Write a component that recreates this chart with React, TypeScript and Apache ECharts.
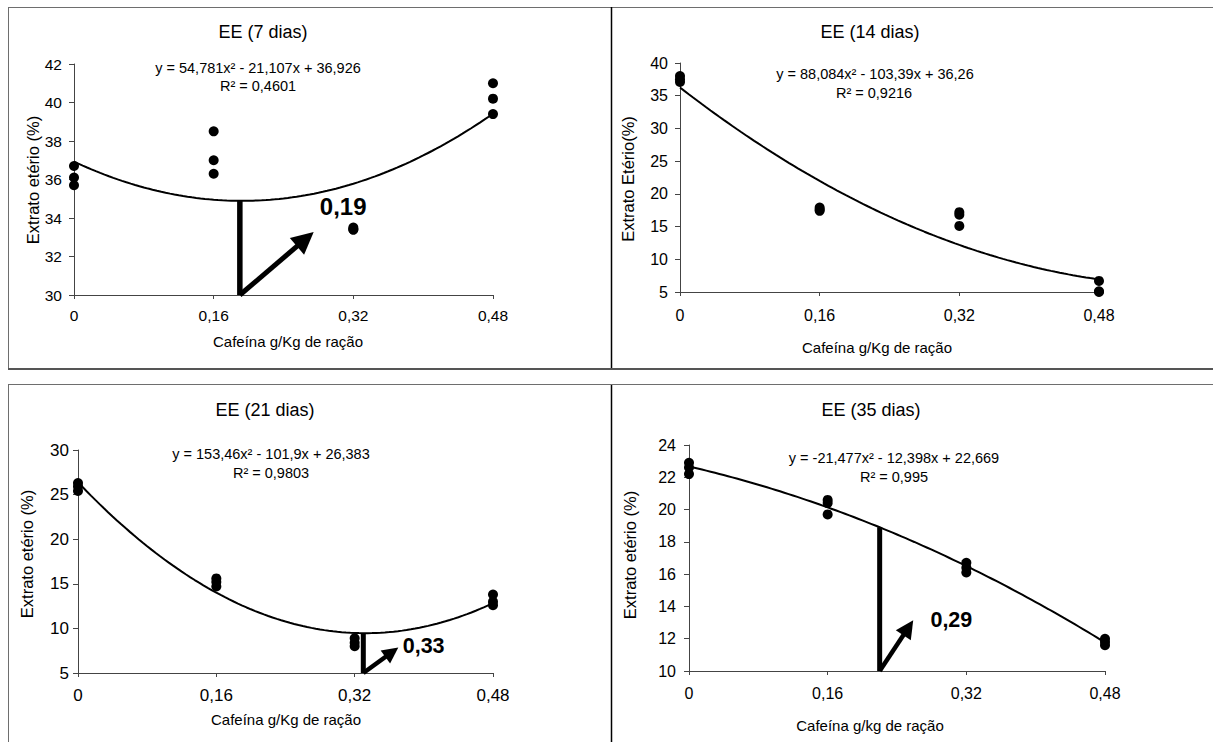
import React, { useEffect, useRef } from "react";
import * as echarts from "echarts";

// Caffeine doses (g/kg of feed) on the x axis
const doses = [0, 0.16, 0.32, 0.48];

// Ether extract (%) replicates for each dose, one list per sampling day
const ee7 = [[36.7, 36.1, 35.7], [38.5, 37.0, 36.3], [33.5, 33.4, 33.4], [41.0, 40.2, 39.4]];
const ee14 = [[38.0, 37.5, 37.1], [17.9, 17.6, 17.4], [17.2, 16.8, 15.1], [6.7, 5.1, 5.0]];
const ee21 = [[26.3, 25.9, 25.4], [15.6, 15.2, 14.7], [8.9, 8.4, 8.0], [13.8, 13.0, 12.6]];
const ee35 = [[22.9, 22.6, 22.2], [20.6, 20.4, 19.7], [16.7, 16.4, 16.1], [12.0, 11.8, 11.6]];

// Quadratic fits: a·x² + b·x + c
const coef7 = [54.781, -21.107, 36.926];
const coef14 = [88.084, -103.39, 36.26];
const coef21 = [153.46, -101.9, 26.383];
const coef35 = [-21.477, -12.398, 22.669];

const titles = ["EE (7 dias)", "EE (14 dias)", "EE (21 dias)", "EE (35 dias)"];
const equations = [
  "y = 54,781x² - 21,107x + 36,926",
  "y = 88,084x² - 103,39x + 36,26",
  "y = 153,46x² - 101,9x + 26,383",
  "y = -21,477x² - 12,398x + 22,669",
];
const r2Texts = ["R² = 0,4601", "R² = 0,9216", "R² = 0,9803", "R² = 0,995"];
const xNames = [
  "Cafeína g/Kg de ração",
  "Cafeína g/Kg de ração",
  "Cafeína g/Kg de ração",
  "Cafeína g/kg de ração",
];
const yNames = ["Extrato etério (%)", "Extrato Etério(%)", "Extrato etério (%)", "Extrato etério (%)"];

// Y scale of each panel
const yMin = [30, 5, 5, 10];
const yMax = [42, 40, 30, 24];
const yStep = [2, 5, 5, 2];

// Optimum dose annotations (drop line, arrow and bold label)
const optLabels = ["0,19", null, "0,33", "0,29"];
const optX = [0.19, null, 0.33, 0.22];
const arrowEnd = [[0.265, 32.9], null, [0.363, 7.33], [0.253, 12.68]];
const labelAt = [[0.281, 34.59], null, [0.375, 7.98], [0.278, 13.14]];

const panelData = [ee7, ee14, ee21, ee35];
const panelCoef = [coef7, coef14, coef21, coef35];

// Layout in page pixels
const grids = [
  { left: 74, top: 64, width: 419, height: 231 },
  { left: 680, top: 63, width: 419, height: 229 },
  { left: 78, top: 450, width: 415, height: 223 },
  { left: 689, top: 445, width: 416, height: 226 },
];
const titlePos = [[263, 32], [870, 32], [265, 410], [871, 410]];
const eqPos = [[258, 68], [875, 74], [271, 454], [894, 458]];
const r2Pos = [[258, 86], [874, 93], [271, 473], [894, 477]];
const xNamePos = [[288, 341], [877, 347], [286, 719], [870, 725]];
const yNamePos = [[33, 180], [628, 179], [27, 554], [630, 555]];
const tickFont = [15.5, 16, 17, 16];
const xLabelMargin = [12, 15, 14, 14];
const yLabelMargin = [12, 12, 9, 13];
const optFont = [24, 0, 21.5, 21.5];
const arrowHead = [22, 0, 16, 18];
const arrowWidth = [5, 0, 4.5, 4.5];

const FONT = "'Liberation Sans', Arial, Helvetica, sans-serif";

const quad = (c: number[], x: number) => c[0] * x * x + c[1] * x + c[2];

function curvePoints(c: number[]) {
  const pts: number[][] = [];
  for (let i = 0; i <= 96; i++) {
    const x = (0.48 * i) / 96;
    pts.push([x, quad(c, x)]);
  }
  return pts;
}

function text(x: number, y: number, str: string, size: number, extra: any = {}) {
  return {
    type: "text",
    x,
    y,
    silent: true,
    ...extra,
    style: {
      text: str,
      fill: "#000",
      fontSize: size,
      fontFamily: FONT,
      fontWeight: "normal",
      align: "center",
      verticalAlign: "middle",
      textAlign: "center",
      textVerticalAlign: "middle",
    },
  };
}

function line(x1: number, y1: number, x2: number, y2: number, color: string, width: number) {
  return {
    type: "line",
    silent: true,
    shape: { x1, y1, x2, y2 },
    style: { stroke: color, lineWidth: width },
  };
}

function buildOption() {
  const xAxis: any[] = [];
  const yAxis: any[] = [];
  const series: any[] = [];
  const graphic: any[] = [];

  for (let i = 0; i < 4; i++) {
    xAxis.push({
      type: "value",
      gridIndex: i,
      min: 0,
      max: 0.48,
      interval: 0.16,
      axisLine: { show: true, onZero: false, lineStyle: { color: "#444", width: 1 } },
      axisTick: { show: true, length: 4, lineStyle: { color: "#444" } },
      splitLine: { show: false },
      axisLabel: {
        color: "#000",
        fontSize: tickFont[i],
        fontFamily: FONT,
        margin: xLabelMargin[i],
        formatter: (v: number) => (v === 0 ? "0" : v.toFixed(2).replace(".", ",")),
      },
    });
    yAxis.push({
      type: "value",
      gridIndex: i,
      min: yMin[i],
      max: yMax[i],
      interval: yStep[i],
      axisLine: { show: true, onZero: false, lineStyle: { color: "#444", width: 1 } },
      axisTick: { show: true, length: 5, lineStyle: { color: "#444" } },
      splitLine: { show: false },
      axisLabel: {
        color: "#000",
        fontSize: tickFont[i],
        fontFamily: FONT,
        margin: yLabelMargin[i],
      },
    });

    const pts: number[][] = [];
    panelData[i].forEach((vals, k) => vals.forEach((v) => pts.push([doses[k], v])));

    series.push({
      type: "line",
      xAxisIndex: i,
      yAxisIndex: i,
      data: curvePoints(panelCoef[i]),
      showSymbol: false,
      symbol: "none",
      smooth: false,
      silent: true,
      lineStyle: { color: "#000", width: 2 },
      z: 2,
    });
    series.push({
      type: "scatter",
      xAxisIndex: i,
      yAxisIndex: i,
      data: pts,
      symbol: "circle",
      symbolSize: 10,
      clip: false,
      silent: true,
      itemStyle: { color: "#000", opacity: 1 },
      z: 3,
    });

    const ox = optX[i];
    if (ox !== null) {
      const end = arrowEnd[i] as number[];
      const lab = labelAt[i] as number[];
      series.push({
        type: "line",
        xAxisIndex: i,
        yAxisIndex: i,
        data: [
          [ox, quad(panelCoef[i], ox)],
          [ox, yMin[i]],
        ],
        showSymbol: false,
        symbol: "none",
        silent: true,
        lineStyle: { color: "#000", width: arrowWidth[i] + 0.5 },
        z: 4,
        markLine: {
          silent: true,
          animation: false,
          symbol: ["none", "triangle"],
          symbolSize: arrowHead[i],
          lineStyle: { color: "#000", width: arrowWidth[i], type: "solid" },
          itemStyle: { color: "#000" },
          label: { show: false },
          emphasis: { disabled: true },
          data: [[{ coord: [ox, yMin[i]] }, { coord: end }]],
        },
        markPoint: {
          silent: true,
          animation: false,
          symbol: "circle",
          symbolSize: 1,
          itemStyle: { color: "rgba(0,0,0,0)" },
          label: {
            show: true,
            position: "right",
            distance: 0,
            formatter: optLabels[i] as string,
            color: "#000",
            fontSize: optFont[i],
            fontWeight: "bold",
            fontFamily: FONT,
          },
          data: [{ coord: lab }],
        },
      });
    }

    graphic.push(text(titlePos[i][0], titlePos[i][1], titles[i], 18));
    graphic.push(text(eqPos[i][0], eqPos[i][1], equations[i], 14.5));
    graphic.push(text(r2Pos[i][0], r2Pos[i][1], r2Texts[i], 14.5));
    graphic.push(text(xNamePos[i][0], xNamePos[i][1], xNames[i], 15));
    graphic.push(
      text(yNamePos[i][0], yNamePos[i][1], yNames[i], 16.5, { rotation: Math.PI / 2 })
    );
  }

  // Panel frames
  graphic.push(line(8, 7.5, 1213, 7.5, "#6e6e6e", 1));
  graphic.push(line(8.5, 7, 8.5, 369, "#6e6e6e", 1));
  graphic.push(line(8.5, 384, 8.5, 742, "#6e6e6e", 1));
  graphic.push(line(611.5, 7, 611.5, 369, "#000", 1.5));
  graphic.push(line(611.5, 384, 611.5, 742, "#000", 1.5));
  graphic.push(line(8, 369, 1213, 369, "#555", 2));
  graphic.push(line(8, 384.5, 1213, 384.5, "#6e6e6e", 1));

  return {
    animation: false,
    backgroundColor: "#fff",
    grid: grids.map((g) => ({ ...g, containLabel: false })),
    xAxis,
    yAxis,
    series,
    graphic,
  };
}

export default function App() {
  const ref = useRef<HTMLDivElement>(null);
  useEffect(() => {
    if (!ref.current) return;
    const chart = echarts.init(ref.current, null, { renderer: "svg" });
    chart.setOption(buildOption() as any);
    return () => chart.dispose();
  }, []);
  return (
    <div
      ref={ref}
      style={{ position: "absolute", left: 0, top: 0, width: 1213, height: 742, background: "#fff" }}
    />
  );
}
